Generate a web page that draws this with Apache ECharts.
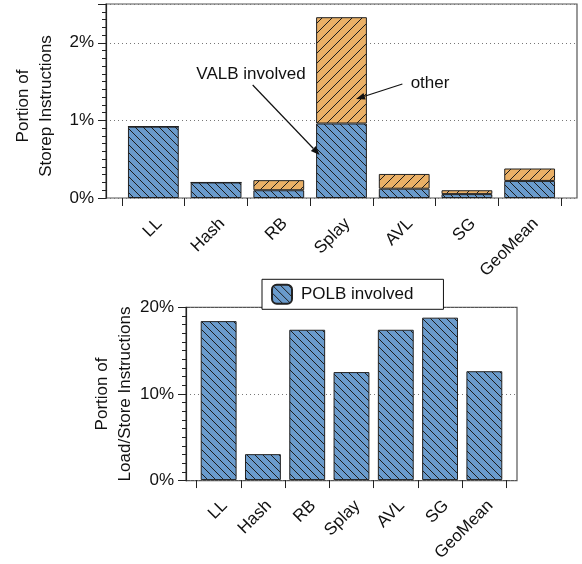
<!DOCTYPE html>
<html><head><meta charset="utf-8">
<script src="https://cdn.jsdelivr.net/npm/echarts@6/dist/echarts.min.js"></script>
<style>html,body{margin:0;padding:0;background:#fff}#c{width:582px;height:564px}</style>
</head><body><div id="c"></div>
<script>
// ---- data ----
const categories = ['LL', 'Hash', 'RB', 'Splay', 'AVL', 'SG', 'GeoMean'];
const valbInvolved = [0.92, 0.20, 0.10, 0.96, 0.12, 0.05, 0.22];
const otherStorep = [0, 0, 0.13, 1.37, 0.19, 0.05, 0.16];
const polbInvolved = [18.4, 3.0, 17.4, 12.5, 17.4, 18.8, 12.6];
const topTickValues = [0, 1, 2];
const bottomTickValues = [0, 10, 20];

const FONT = 'Liberation Sans, Arial, Helvetica, sans-serif';
const BLUE = '#6a9bcc', ORANGE = '#eab066', EDGE = '#222';

function hatch(bg, size, dir) {
  const c = document.createElement('canvas');
  c.width = size; c.height = size;
  const g = c.getContext('2d');
  g.fillStyle = bg; g.fillRect(0, 0, size, size);
  g.strokeStyle = '#1c1c1c'; g.lineWidth = 1;
  g.beginPath();
  if (dir === '\\') {
    g.moveTo(-1, -1); g.lineTo(size + 1, size + 1);
    g.moveTo(-1, size - 1); g.lineTo(1, size + 1);
    g.moveTo(size - 1, -1); g.lineTo(size + 1, 1);
  } else {
    g.moveTo(-1, size + 1); g.lineTo(size + 1, -1);
    g.moveTo(-1, 1); g.lineTo(1, -1);
    g.moveTo(size - 1, size + 1); g.lineTo(size + 1, size - 1);
  }
  g.stroke();
  return { image: c, repeat: 'repeat' };
}

function arrow(x1, y1, x2, y2) {
  const a = Math.atan2(y2 - y1, x2 - x1), L = 9, W = 3.5;
  const bx = x2 - L * Math.cos(a), by = y2 - L * Math.sin(a);
  const px = -Math.sin(a) * W, py = Math.cos(a) * W;
  return [
    { type: 'line', shape: { x1: x1, y1: y1, x2: bx, y2: by }, style: { stroke: '#111', lineWidth: 1.2 }, z: 100 },
    { type: 'polygon', shape: { points: [[x2, y2], [bx + px, by + py], [bx - px, by - py]] }, style: { fill: '#111' }, z: 100 }
  ];
}

const chart = echarts.init(document.getElementById('c'));
const txt = { fontFamily: FONT, fontSize: 17, color: '#111' };
const pctTop = v => topTickValues.includes(v) ? v + '%' : '';
const pctBottom = v => bottomTickValues.includes(v) ? v + '%' : '';

function frameY(gi, max, interval, fmt, name, gap, namePad) {
  return {
    gridIndex: gi, type: 'value', min: 0, max: max, interval: interval,
    axisLine: { show: true, lineStyle: { color: EDGE, width: 1.2 } },
    axisTick: { show: true, length: 8, lineStyle: { color: EDGE } },
    minorTick: { show: true, splitNumber: 10, length: 4, lineStyle: { color: EDGE } },
    axisLabel: Object.assign({ formatter: fmt, margin: 12 }, txt),
    splitLine: { show: true, lineStyle: { type: [1, 3], color: '#777', width: 1 } },
    name: name, nameLocation: 'middle', nameRotate: 90, nameGap: gap, nameMoveOverlap: false,
    nameTextStyle: Object.assign({ lineHeight: 23, padding: namePad }, txt)
  };
}
function barX(gi) {
  return {
    gridIndex: gi, type: 'category', data: categories,
    axisLine: { show: false },
    axisTick: { show: true, length: 8, lineStyle: { color: EDGE } },
    axisLabel: Object.assign({ rotate: 45, margin: 17, interval: 0, verticalAlign: 'top' }, txt)
  };
}

chart.setOption({
  animation: false,
  grid: [
    { left: 106, top: 4, width: 471, height: 194, show: true, borderColor: '#555', borderWidth: 1.2 },
    { left: 122, top: 4, width: 439, height: 194 },
    { left: 186, top: 307.3, width: 331, height: 173.4, show: true, borderColor: '#555', borderWidth: 1.2 },
    { left: 196.5, top: 307.3, width: 310, height: 173.4 }
  ],
  xAxis: [
    { gridIndex: 0, type: 'value', show: false, min: 0, max: 1 },
    barX(1),
    { gridIndex: 2, type: 'value', show: false, min: 0, max: 1 },
    barX(3)
  ],
  yAxis: [
    frameY(0, 2.5, 1, pctTop, 'Portion of\nStorep Instructions', 48.5, [0, 10, 0, 0]),
    { gridIndex: 1, type: 'value', min: 0, max: 2.5, show: false },
    frameY(2, 20, 10, pctBottom, 'Portion of\nLoad/Store Instructions', 49, 0),
    { gridIndex: 3, type: 'value', min: 0, max: 20, show: false }
  ],
  legend: {
    data: ['POLB involved'], left: 262, top: 279.3, itemWidth: 20, itemHeight: 19,
    icon: 'roundRect', borderColor: '#111', borderWidth: 1, backgroundColor: '#fff',
    padding: [4.5, 30, 4.5, 9], borderRadius: 0,
    textStyle: Object.assign({ padding: [0, 0, 0, 4] }, txt), z: 10
  },
  series: [
    { name: 'VALB involved', type: 'bar', xAxisIndex: 1, yAxisIndex: 1, stack: 'top', data: valbInvolved,
      barCategoryGap: '19%', itemStyle: { color: hatch(BLUE, 8, '\\'), borderColor: EDGE, borderWidth: 1 } },
    { name: 'other', type: 'bar', xAxisIndex: 1, yAxisIndex: 1, stack: 'top', data: otherStorep,
      barCategoryGap: '19%', itemStyle: { color: hatch(ORANGE, 10, '/'), borderColor: EDGE, borderWidth: 1 } },
    { name: 'POLB involved', type: 'bar', xAxisIndex: 3, yAxisIndex: 3, data: polbInvolved,
      barCategoryGap: '19%', itemStyle: { color: hatch(BLUE, 8, '\\'), borderColor: EDGE, borderWidth: 1 } }
  ],
  graphic: [
    { type: 'text', x: 251, y: 74, z: 100, style: { text: 'VALB involved', textAlign: 'center', textVerticalAlign: 'middle', font: '17px ' + FONT, fill: '#111' } },
    { type: 'text', x: 430, y: 83, z: 100, style: { text: 'other', textAlign: 'center', textVerticalAlign: 'middle', font: '17px ' + FONT, fill: '#111' } }
  ].concat(arrow(252.7, 85, 319.6, 155), arrow(402.4, 84, 356, 99))
});
</script>
</body></html>
